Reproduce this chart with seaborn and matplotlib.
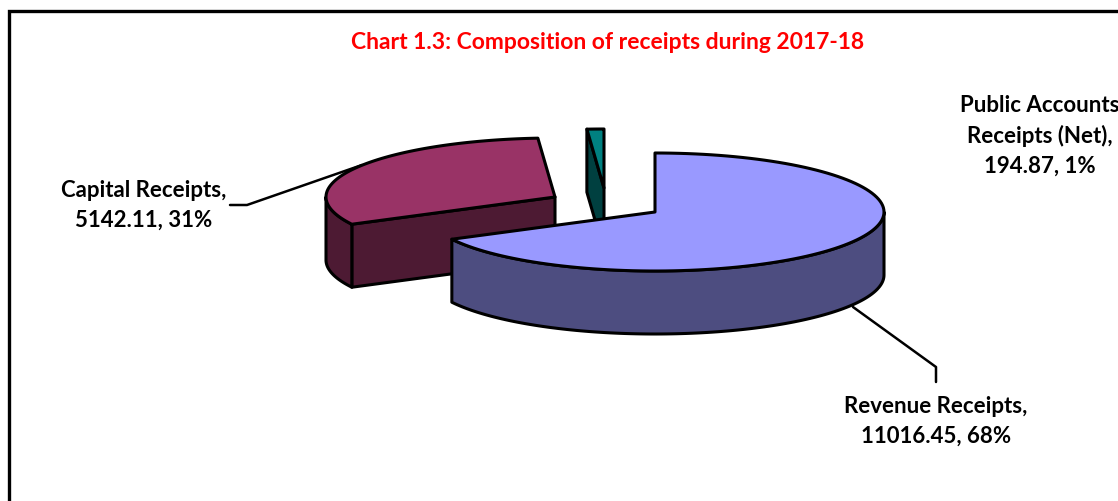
import numpy as np
import matplotlib
matplotlib.use("Agg")
import matplotlib.pyplot as plt
import seaborn as sns

title = "Chart 1.3: Composition of receipts during 2017-18"
categories = ["Revenue Receipts", "Capital Receipts", "Public Accounts Receipts (Net)"]
values = [11016.45, 5142.11, 194.87]
percent_labels = ["68%", "31%", "1%"]

top_colors = ["#9999FF", "#993366", "#008080"]
side_colors = ["#4D4D80", "#4D1A33", "#004040"]

# pie geometry in pixels, every slice is pulled out by its own centre
centres = [(655, 212), (555, 197), (604, 188)]
rx, ry, depth = 229, 59, 63

sns.set_theme(style="white")
plt.rcParams["font.family"] = ["Lato", "DejaVu Sans"]

fig, ax = plt.subplots(figsize=(11.18, 5.01), dpi=100)
ax.set_position([0, 0, 1, 1])
ax.set_xlim(0, 1118)
ax.set_ylim(501, 0)
ax.axis("off")


def rim(cx, cy, a1, a2, dy=0):
    t = np.radians(np.linspace(a1, a2, 120))
    return cx + rx * np.cos(t), cy - ry * np.sin(t) + dy


def draw_slice(i, a_start, a_end):
    cx, cy = centres[i]
    style = dict(edgecolor="black", linewidth=2.2, joinstyle="round")
    x, y = rim(cx, cy, a_start, a_end)
    # the cut face seen from the front (only for a slice that opens to the left)
    if i > 0:
        px, py = x[0], y[0]
        ax.fill([cx, px, px, cx], [cy, py, py + depth, cy + depth],
                facecolor=side_colors[i], **style)
    # outer wall, only the part below the widest line of the ellipse shows
    lo, hi = a_end, a_start
    front = [(180, 360), (540, 720)]
    for f1, f2 in front:
        a1, a2 = max(lo, f1), min(hi, f2)
        if a1 < a2:
            wx, wy = rim(cx, cy, a1, a2)
            ax.fill(np.r_[wx, wx[::-1]], np.r_[wy, wy[::-1] + depth],
                    facecolor=side_colors[i], **style)
    ax.fill(np.r_[cx, x], np.r_[cy, y], facecolor=top_colors[i], **style)


# slices run clockwise from 12 o'clock, angles come from the values
sweep = np.array(values) / sum(values) * 360
starts = 90 - np.r_[0, np.cumsum(sweep)[:-1]]
for i in [2, 1, 0]:
    draw_slice(i, starts[i] + 360 if i == 0 else starts[i] + 360, starts[i] - sweep[i] + 360)

# leader lines
ax.plot([230, 247, 362], [205, 205, 165], color="black", lw=1.8, zorder=0.5)
ax.plot([853, 936, 936], [307, 367, 382], color="black", lw=1.8)

# frame, right and bottom sides fall outside the picture
ax.plot([9, 9, 1118], [501, 11, 11], color="black", lw=2.4, solid_joinstyle="miter")

ax.text(607.5, 42, title, color="#FF0000", fontsize=16.5, fontweight="bold",
        ha="center", va="center")

label_style = dict(color="black", fontsize=16, fontweight="bold", ha="center",
                   va="center", linespacing=1.5)
ax.text(936, 421, f"Revenue Receipts,\n{values[0]:.2f}, {percent_labels[0]}", **label_style)
ax.text(144, 205, f"Capital Receipts,\n{values[1]:.2f}, {percent_labels[1]}", **label_style)
ax.text(1040, 136, f"Public Accounts\nReceipts (Net),\n{values[2]:.2f}, {percent_labels[2]}", **label_style)

fig.savefig("out.png", dpi=100)
